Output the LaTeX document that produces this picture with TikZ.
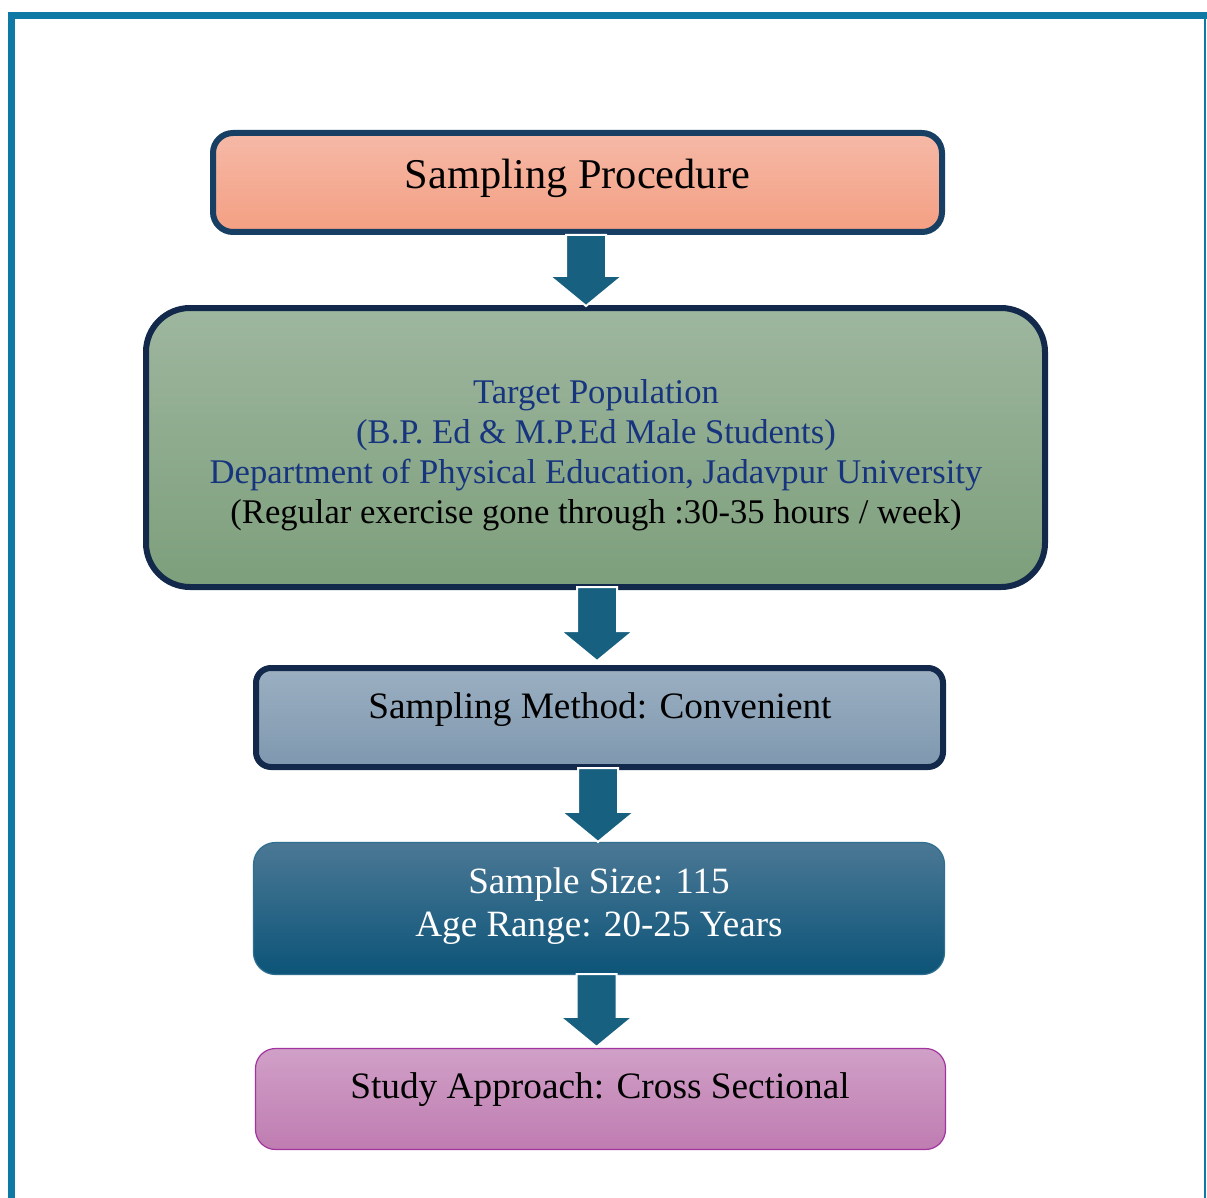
\documentclass[tikz,border=0pt]{standalone}
\usepackage{fontspec}
\setmainfont{Liberation Serif}
\usetikzlibrary{calc}

\definecolor{framecol}{HTML}{0E79A5}
\definecolor{navy}{HTML}{13294B}
\definecolor{navyb}{HTML}{173F63}
\definecolor{arrowcol}{HTML}{17607F}
\definecolor{txtblue}{HTML}{17357E}
\definecolor{salmonT}{HTML}{F5B9A7}
\definecolor{salmonB}{HTML}{F49F82}
\definecolor{sageT}{HTML}{9EB69F}
\definecolor{sageB}{HTML}{7D9F7B}
\definecolor{steelT}{HTML}{9BAFC1}
\definecolor{steelB}{HTML}{7F98AF}
\definecolor{tealT}{HTML}{4B7895}
\definecolor{tealM}{HTML}{165F82}
\definecolor{tealB}{HTML}{0C5478}
\definecolor{tealE}{HTML}{2F6F90}
\definecolor{mauveT}{HTML}{D0A0C7}
\definecolor{mauveB}{HTML}{BF7CB1}
\definecolor{mauveE}{HTML}{A3349F}

\tikzset{
  stagebox/.style={draw, rectangle, inner sep=0pt},
  label/.style={anchor=base, inner sep=0pt},
  blockarrow/.style={fill=arrowcol, draw=white, line width=2pt, line join=miter}
}

% block arrow: shaft starts at the y of #1, tip at #2
\newcommand\barrow[2]{%
  \draw[blockarrow] let \p1=(#1), \p2=(#2) in
    (\x2-20pt,\y1) -- (\x2+20pt,\y1) -- (\x2+20pt,\y2+30pt) -- (\x2+36.5pt,\y2+30pt)
    -- (\x2,\y2) -- (\x2-36.5pt,\y2+30pt) -- (\x2-20pt,\y2+30pt) -- cycle;}

\begin{document}
\begin{tikzpicture}[x=1pt,y=-1pt]
\useasboundingbox (0,0) rectangle (1207,1198);
\fill[white] (0,0) rectangle (1207,1198);

% page frame
\fill[framecol] (8,12) rectangle (1207,19);
\fill[framecol] (8,12) rectangle (15,1198);
\fill[framecol] (1204,19) rectangle (1206,1198);

% stages
\node[stagebox, draw=navyb, line width=6pt, rounded corners=20pt,
      top color=salmonT, bottom color=salmonB,
      minimum width=729pt, minimum height=99pt] (b1) at (577.5,182.5) {};
\node[stagebox, draw=navy, line width=6pt, rounded corners=44pt,
      top color=sageT, bottom color=sageB,
      minimum width=899pt, minimum height=279pt] (b2) at (595.5,447.5) {};
\node[stagebox, draw=navy, line width=6pt, rounded corners=15pt,
      top color=steelT, bottom color=steelB,
      minimum width=687pt, minimum height=99pt] (b3) at (599.5,717.5) {};
\node[stagebox, draw=tealE, line width=1.2pt, rounded corners=22pt,
      top color=tealT, middle color=tealM, bottom color=tealB,
      minimum width=691pt, minimum height=132pt] (b4) at (599,908.5) {};
\node[stagebox, draw=mauveE, line width=1.2pt, rounded corners=20pt,
      top color=mauveT, bottom color=mauveB,
      minimum width=690pt, minimum height=101pt] (b5) at (600.5,1099) {};

% arrows between stages
\barrow{b1.south}{[xshift=-9.5pt,yshift=-1pt]b2.north}
\barrow{[yshift=3pt]b2.south}{[xshift=-2.5pt,yshift=4pt]b3.north}
\barrow{[yshift=2pt]b3.south}{[xshift=-1pt]b4.north}
\barrow{[yshift=1pt]b4.south}{[xshift=-4pt,yshift=1pt]b5.north}

% texts
\node[label, font=\fontsize{42.4}{50}\selectfont] (t1) at (577.5,189) {Sampling Procedure};

\node[label, text=txtblue, font=\fontsize{34.6}{40}\selectfont] (t2a) at (596,403) {Target Population};
\node[label, text=txtblue, font=\fontsize{34.6}{40}\selectfont] (t2b) at (596,443) {(B.P. Ed \& M.P.Ed Male Students)};
\node[label, text=txtblue, font=\fontsize{34.6}{40}\selectfont] (t2c) at (596,483) {Department of Physical Education, Jadavpur University};
\node[label, font=\fontsize{34.6}{40}\selectfont] (t2d) at (596,523) {(Regular exercise gone through :30-35 hours / week)};

\node[label, font=\fontsize{37.3}{44}\selectfont] (t3) at (600,718) {Sampling Method: Convenient};

\node[label, text=white, font=\fontsize{37.1}{44}\selectfont] (t4a) at (599,893) {Sample Size: 115};
\node[label, text=white, font=\fontsize{37.1}{44}\selectfont] (t4b) at (599,936) {Age Range: 20-25 Years};

\node[label, font=\fontsize{37.3}{44}\selectfont] (t5) at (600,1098) {Study Approach: Cross Sectional};
\end{tikzpicture}
\end{document}
